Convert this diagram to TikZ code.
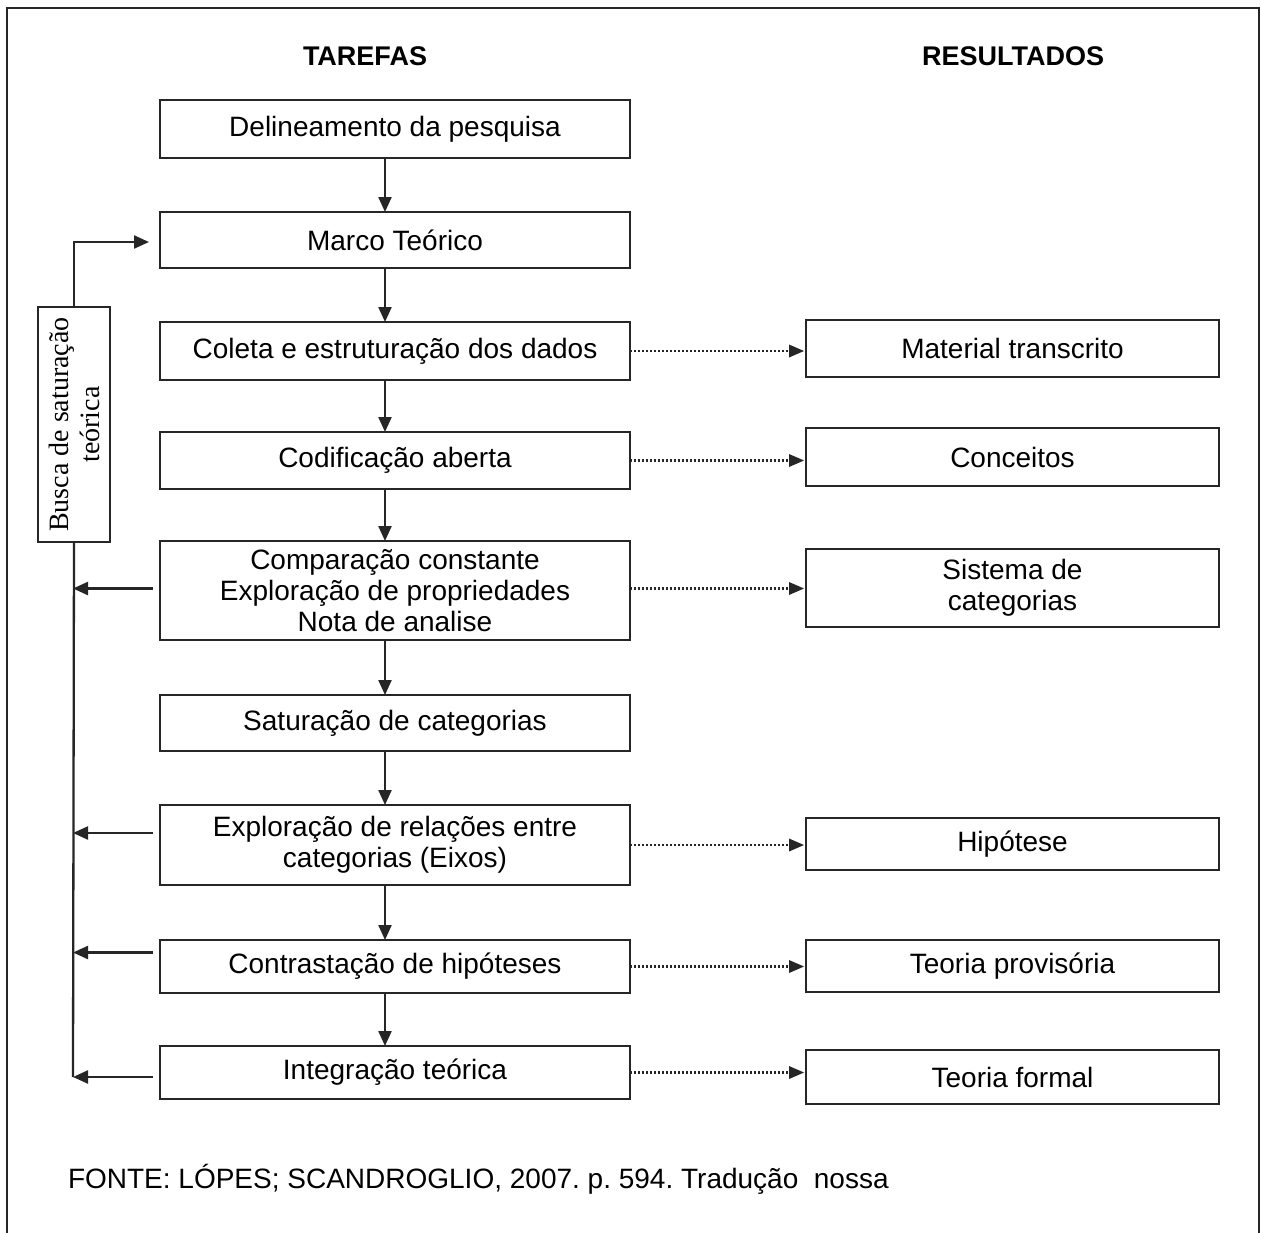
\documentclass[tikz,border=0pt]{standalone}
\usepackage{fontspec}
\setmainfont{Liberation Sans}
\newfontfamily\buscafont{Liberation Serif}
\usetikzlibrary{arrows.meta}
\frenchspacing
\begin{document}
\begin{tikzpicture}[x=1pt,y=-1pt,
  every node/.style={inner sep=0pt, outer sep=0pt, text=black},
  frame/.style={draw=black!85, line width=2.2pt},
  lbox/.style={draw=black!85, line width=2.3pt, minimum width=470pt, align=center,
     font=\fontsize{28}{31}\selectfont},
  rbox/.style={draw=black!85, line width=2.3pt, minimum width=413pt, align=center,
     font=\fontsize{28}{31}\selectfont},
  head/.style={font=\fontsize{27}{31}\selectfont\bfseries},
  arr/.style={draw=black!85, line width=2.3pt, -{Triangle[length=15pt,width=13pt]}},
  darr/.style={draw=black!85, line width=2.3pt, dash pattern=on 2pt off 2pt,
     -{Triangle[length=15pt,width=13pt,line width=0pt]}},
  vline/.style={draw=black!85, line width=2.3pt}
]
\useasboundingbox (0,0) rectangle (1261,1232);
\fill[white] (0,0) rectangle (1261,1232);
% outer frame (bottom edge lies beyond the picture)
\draw[frame] (7,1250) -- (7,8) -- (1259,8) -- (1259,1250);

\node[head] (h1) at (365,56) {TAREFAS};
\node[head] (h2) at (1013,56) {RESULTADOS};

% left column
\node[lbox, minimum height=58pt] (t1) at (395,129) {Delineamento da pesquisa};
\node[lbox, minimum height=56pt] (t2) at (395,240) {Marco Teórico};
\node[lbox, minimum height=58pt] (t3) at (395,351) {Coleta e estruturação dos dados};
\node[lbox, minimum height=57pt] (t4) at (395,460.5) {Codificação aberta};
\node[lbox, minimum height=99pt] (t5) at (395,590.5) {Comparação constante\\Exploração de propriedades\\Nota de analise};
\node[lbox, minimum height=56pt] (t6) at (395,723) {Saturação de categorias};
\node[lbox, minimum height=80pt] (t7) at (395,845) {Exploração de relações entre\\categorias (Eixos)};
\node[lbox, minimum height=53pt] (t8) at (395,966.5) {Contrastação de hipóteses};
\node[lbox, minimum height=53pt] (t9) at (395,1072.5) {Integração teórica};

% right column
\node[rbox, minimum height=57pt] (r3) at (1012.5,348.5) {Material transcrito};
\node[rbox, minimum height=58pt] (r4) at (1012.5,457) {Conceitos};
\node[rbox, minimum height=78pt] (r5) at (1012.5,588) {Sistema de\\categorias};
\node[rbox, minimum height=52pt] (r7) at (1012.5,844) {Hipótese};
\node[rbox, minimum height=52pt] (r8) at (1012.5,966) {Teoria provisória};
\node[rbox, minimum height=54pt] (r9) at (1012.5,1077) {Teoria formal};

% side box
\node[draw=black!85, line width=2.3pt, rotate=90, minimum width=235pt, minimum height=72pt,
      align=center, font=\buscafont\fontsize{28}{31}\selectfont] (busca) at (74,424.5)
      {Busca de saturação\\teórica};

% down arrows
\coordinate (xc) at (385,0);
\foreach \a/\b in {t1/t2,t2/t3,t3/t4,t4/t5,t5/t6,t6/t7,t7/t8,t8/t9}
  \draw[arr] (\a.south -| xc) -- (\b.north -| xc);

% dotted arrows
\draw[darr] (t3.east) -- ([xshift=-2pt]r3.west |- t3.east);
\draw[darr] (t4.east) -- ([xshift=-2pt]r4.west |- t4.east);
\draw[darr] ([yshift=2pt]t5.east) -- ([xshift=-2pt,yshift=2pt]r5.west |- t5.east);
\draw[darr] (t7.east) -- ([xshift=-2pt]r7.west |- t7.east);
\draw[darr] (t8.east) -- ([xshift=-2pt]r8.west |- t8.east);
\draw[darr] (t9.east) -- ([xshift=-2pt]r9.west |- t9.east);

% feedback loop
\coordinate (vx) at (73,0);
\coordinate (vbot) at (73,1077);
\draw[arr] (busca.east) |- ([xshift=-11pt,yshift=-2pt]t2.west);
\draw[vline] (busca.west) -- (vbot);
\draw[arr] ([xshift=-7pt,yshift=2pt]t5.west) -- ([yshift=2pt]t5.west -| vx);
\draw[arr] ([xshift=-7pt,yshift=12pt]t7.west) -- ([yshift=12pt]t7.west -| vx);
\draw[arr] ([xshift=-7pt,yshift=14pt]t8.west) -- ([yshift=14pt]t8.west -| vx);
\draw[arr] ([xshift=-7pt,yshift=-4.5pt]t9.west) -- ([yshift=-4.5pt]t9.west -| vx);

% source
\node[anchor=base west, font=\fontsize{28}{31}\selectfont] (src) at (68,1188)
  {FONTE: LÓPES; SCANDROGLIO, 2007. p. 594. Tradução~~nossa};
\end{tikzpicture}
\end{document}
